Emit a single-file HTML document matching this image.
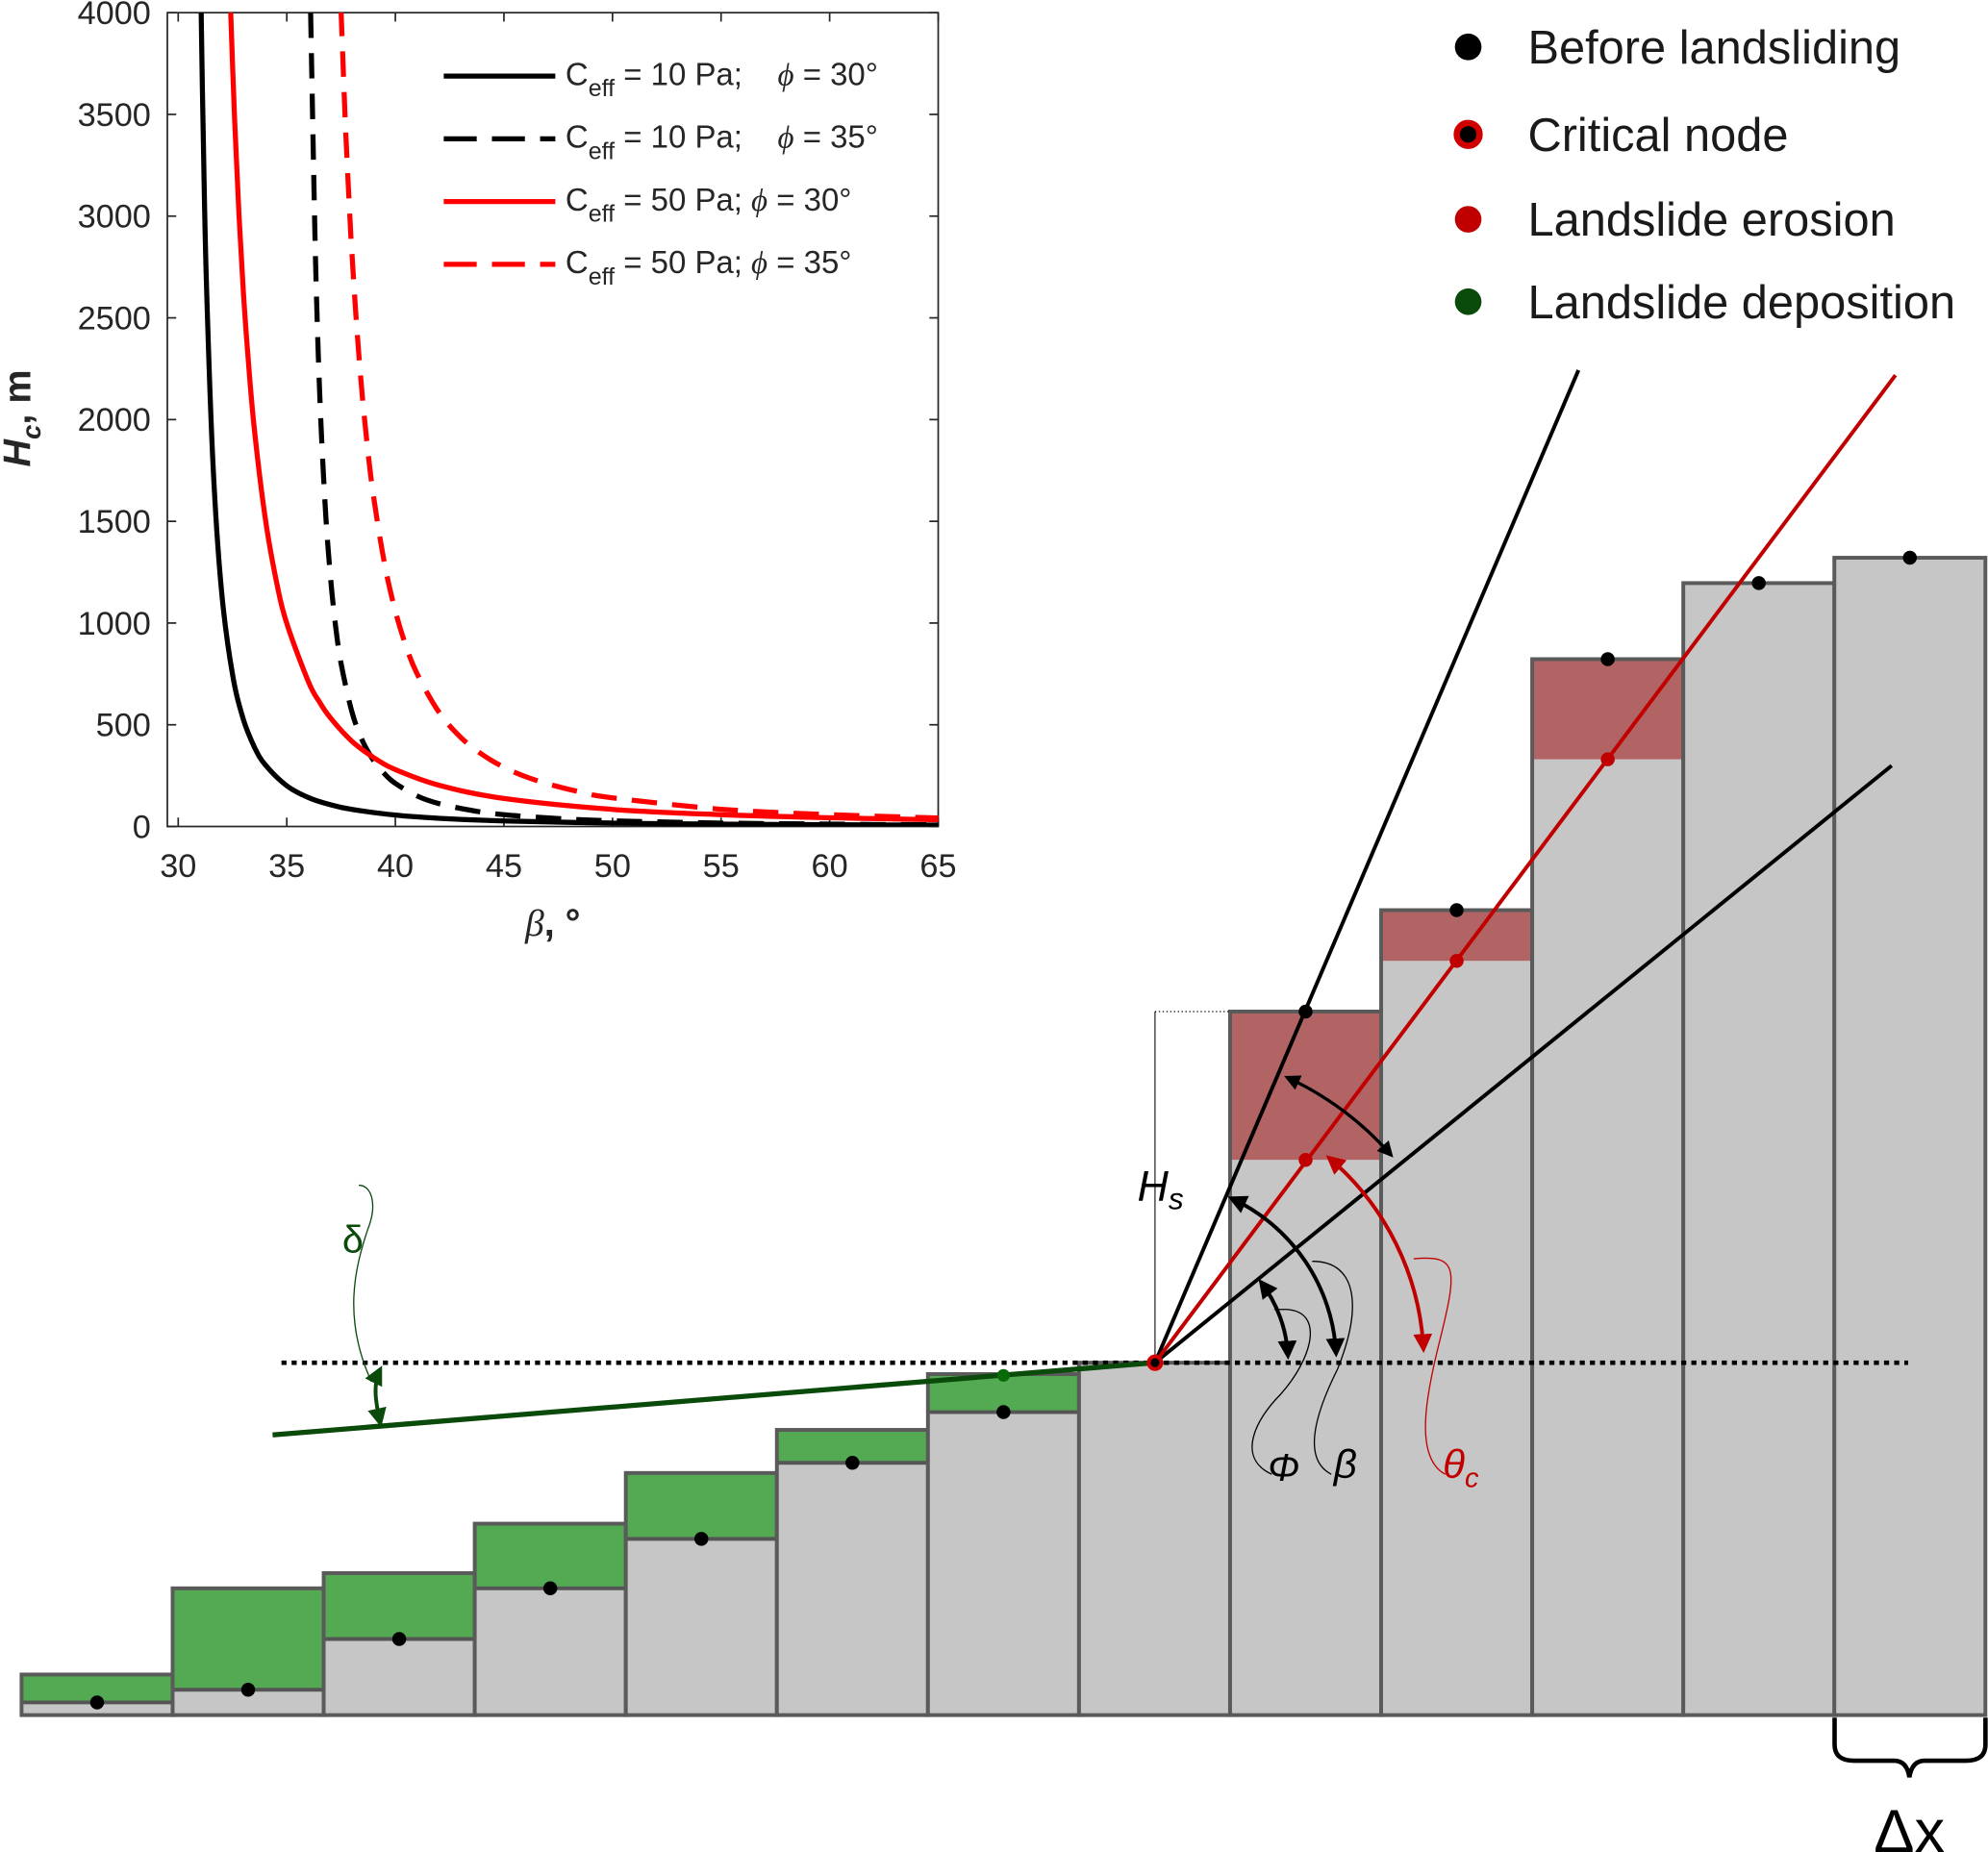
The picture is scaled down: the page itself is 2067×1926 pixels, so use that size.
<!DOCTYPE html>
<html><head><meta charset="utf-8"><style>
html,body{margin:0;padding:0;background:#fff;}
svg{display:block;}
text{font-family:"Liberation Sans","DejaVu Sans",sans-serif;}
</style></head><body>
<svg id="fig" width="2067" height="1926" viewBox="0 0 1568 1461" preserveAspectRatio="none" xmlns="http://www.w3.org/2000/svg">
<defs>
<marker id="ahk" viewBox="0 0 10 10" refX="8" refY="5" markerWidth="5" markerHeight="5" orient="auto-start-reverse"><path d="M0,0 L10,5 L0,10 z" fill="#000"/></marker>
<marker id="ahr" viewBox="0 0 10 10" refX="8" refY="5" markerWidth="5" markerHeight="5" orient="auto-start-reverse"><path d="M0,0 L10,5 L0,10 z" fill="#c00000"/></marker>
<marker id="ahg" viewBox="0 0 10 10" refX="8" refY="5" markerWidth="5" markerHeight="5" orient="auto-start-reverse"><path d="M0,0 L10,5 L0,10 z" fill="#0a4a0a"/></marker>
<clipPath id="axclip"><rect x="132" y="10" width="608" height="642"/></clipPath>
</defs>
<g id="diagram"></g>
<g id="inset"></g>
</svg>
<script>
// ===== Inset chart data =====
const xTicks = [30,35,40,45,50,55,60,65];
const yTicks = [0,500,1000,1500,2000,2500,3000,3500,4000];
const betaBlackSolid = [31.05,31.15,31.3,31.6,32,32.5,33,33.5,34,35,36,37,38,40,42,45,50,55,60,65];
const hcBlackSolid   = [4070,3403,2674,1781,1153,748,527,392,304,200,142,107,84,56,40.5,27.5,16.8,11.6,8.6,6.6];
const betaRedSolid = [32.4,32.6,32.8,33,33.2,33.5,34,34.5,35,36,36.5,37,38,39,40,42,45,50,55,60,65];
const hcRedSolid   = [4047,3467,3006,2632,2327,1960,1521,1217,998,711,613,535,419,339,280,203,138,84,58,43,33];
const betaBlackDash = [36.1,36.3,36.45,36.6,36.8,37,37.25,37.5,38,38.5,39,39.5,40,41,42,43.5,45,47.5,50,55,60,65];
const hcBlackDash   = [4000,2883,2326,1917,1522,1238,984,801,563,418,324,259,212,150,113,79,58,39,28,17,11.6,8.5];
const betaRedDash = [37.5,37.7,37.9,38,38.25,38.5,38.75,39,39.5,40,40.5,41,42,43,44,45,46,47,48.5,50,55,60,65];
const hcRedDash   = [4009,3453,3005,2815,2412,2092,1832,1619,1293,1059,884,751,563,439,354,291,245,210,170,141,85,58,42];
const legendLabels = ["10 Pa;\u00a0\u00a0\u00a0\u00a0", "10 Pa;\u00a0\u00a0\u00a0\u00a0", "50 Pa;\u00a0", "50 Pa;\u00a0"];
const legendPhi = ["30°","35°","30°","35°"];

// ===== Diagram data =====
const colBefore = [10,20,60,100,139,199,239,278,555,635,833,893,913];
const colAfter  = [10,20,60,100,139,199,239,278,438,595,754,893,913];
const colDepo   = [32,100,112,151,191,225,269,278,438,595,754,893,913];

const NS="http://www.w3.org/2000/svg";
function mk(parent,tag,attrs){const e=document.createElementNS(NS,tag);for(const k in attrs)e.setAttribute(k,attrs[k]);parent.appendChild(e);return e;}

// ---------- inset ----------
const inset=document.getElementById('inset');
const X0=132,X1=740,Y0=652,Y1=10;
const xs=v=>X0+(v-29.5)/(65-29.5)*(X1-X0);
const ys=v=>Y0-(v/4000)*(Y0-Y1);
const box=mk(inset,'rect',{x:X0,y:Y1,width:X1-X0,height:Y0-Y1,fill:'#fff',stroke:'#262626','stroke-width':1.3});


xTicks.forEach(t=>{
  const x=xs(t);
  mk(inset,'line',{x1:x,y1:Y0,x2:x,y2:Y0-7,stroke:'#262626','stroke-width':1.3});
  mk(inset,'line',{x1:x,y1:Y1,x2:x,y2:Y1+7,stroke:'#262626','stroke-width':1.3});
  const tx=mk(inset,'text',{x:x,y:Y0+40,'font-size':26,'text-anchor':'middle',fill:'#262626'});
  tx.textContent=t;
  
  
});
yTicks.forEach(t=>{
  const y=ys(t);
  mk(inset,'line',{x1:X0,y1:y,x2:X0+7,y2:y,stroke:'#262626','stroke-width':1.3});
  mk(inset,'line',{x1:X1,y1:y,x2:X1-7,y2:y,stroke:'#262626','stroke-width':1.3});
  const tx=mk(inset,'text',{x:X0-13,y:y+9,'font-size':26,'text-anchor':'end',fill:'#262626'});
  tx.textContent=t;
  
  
});
const xt=mk(inset,'text',{x:436,y:738,'font-size':30,'text-anchor':'middle',fill:'#262626'});
xt.innerHTML='<tspan font-style="italic" font-family="Liberation Serif, serif">β</tspan><tspan font-weight="bold">, °</tspan>';


const yt=mk(inset,'text',{x:0,y:0,'font-size':30,'font-weight':'bold','text-anchor':'middle',fill:'#262626',transform:'translate(24,330) rotate(-90)'});
yt.innerHTML='<tspan font-style="italic">H</tspan><tspan font-style="italic" font-size="21" dy="8">c</tspan><tspan dy="-8">, m</tspan>';


const series=[
 {b:betaBlackSolid,h:hcBlackSolid,c:'#000',d:null,n:'series-c10-phi30'},
 {b:betaBlackDash,h:hcBlackDash,c:'#000',d:'20,12',n:'series-c10-phi35'},
 {b:betaRedSolid,h:hcRedSolid,c:'#ff0000',d:null,n:'series-c50-phi30'},
 {b:betaRedDash,h:hcRedDash,c:'#ff0000',d:'20,12',n:'series-c50-phi35'}];
function smooth(P){
  let d='M'+P[0][0].toFixed(1)+','+P[0][1].toFixed(1);
  for(let i=0;i<P.length-1;i++){
    const p0=P[Math.max(0,i-1)],p1=P[i],p2=P[i+1],p3=P[Math.min(P.length-1,i+2)];
    const c1=[p1[0]+(p2[0]-p0[0])/6,p1[1]+(p2[1]-p0[1])/6];
    const c2=[p2[0]-(p3[0]-p1[0])/6,p2[1]-(p3[1]-p1[1])/6];
    d+=` C${c1[0].toFixed(1)},${c1[1].toFixed(1)} ${c2[0].toFixed(1)},${c2[1].toFixed(1)} ${p2[0].toFixed(1)},${p2[1].toFixed(1)}`;
  }
  return d;
}
const clipG=mk(inset,'g',{'clip-path':'url(#axclip)'});
series.forEach(s=>{
  const P=s.b.map((b,i)=>[xs(b),ys(s.h[i])]);
  const a={d:smooth(P),fill:'none',stroke:s.c,'stroke-width':4,'stroke-linejoin':'round'};
  if(s.d)a['stroke-dasharray']=s.d;
  const pl=mk(clipG,'path',a);
  
  
});
series.forEach((s,i)=>{
  const y=60+i*49.5;
  const a={x1:350,y1:y,x2:438,y2:y,stroke:s.c,'stroke-width':4};
  if(s.d)a['stroke-dasharray']='26,12';
  const ln=mk(inset,'line',a);
  
  
  const tx=mk(inset,'text',{x:446,y:y+7,'font-size':25,fill:'#262626'});
  tx.innerHTML='C<tspan font-size="19" dy="9">eff</tspan><tspan dy="-9"> = '+legendLabels[i]+'</tspan><tspan font-style="italic" font-family="Liberation Serif, serif">ϕ</tspan> = '+legendPhi[i];
  
  
});

// ---------- diagram ----------
const dg=document.getElementById('diagram');
const BASE=1353, CX0=17, CW=119.15;
const cx=i=>CX0+i*CW;
const crit={x:911,y:1075};
colBefore.forEach((hb,i)=>{
  const ha=colAfter[i], hd=colDepo[i];
  const top=Math.max(hb,hd);
  const g=mk(dg,'g',{});
  
  
  mk(g,'rect',{x:cx(i),y:BASE-ha,width:CW,height:ha,fill:'#c6c6c6'});
  if(hd>ha) mk(g,'rect',{x:cx(i),y:BASE-hd,width:CW,height:hd-ha,fill:'#53aa53'});
  if(hb>ha) mk(g,'rect',{x:cx(i),y:BASE-hb,width:CW,height:hb-ha,fill:'#b26464'});
  if(hd>ha) mk(g,'line',{x1:cx(i),y1:BASE-ha,x2:cx(i)+CW,y2:BASE-ha,stroke:'#555','stroke-width':3});
  mk(g,'rect',{x:cx(i),y:BASE-top,width:CW,height:top,fill:'none',stroke:'#5a5a5a','stroke-width':3});
});
const L=(a)=>mk(dg,'line',a);
L({x1:222,y1:crit.y,x2:1505,y2:crit.y,stroke:'#000','stroke-width':3.5,'stroke-dasharray':'4,4'});
L({x1:215,y1:1132,x2:crit.x,y2:crit.y,stroke:'#0a4a0a','stroke-width':4});
L({x1:crit.x,y1:crit.y,x2:1245,y2:292,stroke:'#000','stroke-width':3});
L({x1:crit.x,y1:crit.y,x2:1492,y2:604,stroke:'#000','stroke-width':3});
L({x1:crit.x,y1:crit.y,x2:1495,y2:296,stroke:'#c00000','stroke-width':3});
L({x1:911,y1:798,x2:911,y2:1075,stroke:'#000','stroke-width':0.8});
L({x1:911,y1:798,x2:971,y2:798,stroke:'#000','stroke-width':1,'stroke-dasharray':'1,2'});
function arc(r,a1,a2,col,mark,w){
  const p1=[crit.x+r*Math.cos(a1),crit.y-r*Math.sin(a1)],p2=[crit.x+r*Math.cos(a2),crit.y-r*Math.sin(a2)];
  return mk(dg,'path',{d:`M${p1[0]},${p1[1]} A${r},${r} 0 0 1 ${p2[0]},${p2[1]}`,fill:'none',stroke:col,'stroke-width':w||3,'marker-start':mark,'marker-end':mark});
}
const angB=Math.atan2(1075-292,1245-911), angP=Math.atan2(1075-604,1492-911), angR=Math.atan2(1075-296,1495-911);
arc(143,angB-0.03,0.05,'#000','url(#ahk)');
arc(105,angP-0.03,0.05,'#000','url(#ahk)');
arc(212,angR-0.06,0.05,'#c00000','url(#ahr)');
arc(248,angB-0.03,angP+0.04,'#000','url(#ahk)',2.5);
mk(dg,'path',{d:'M300,1123 C296,1105 294,1092 300,1080',fill:'none',stroke:'#0a4a0a','stroke-width':3,'marker-start':'url(#ahg)','marker-end':'url(#ahg)'});
const thin=(d,c)=>mk(dg,'path',{d:d,fill:'none',stroke:c,'stroke-width':1});
thin('M1003,1163 C975,1150 990,1120 1010,1100 C1035,1072 1045,1035 1015,1033 L1005,1033','#000');
thin('M1050,1163 C1025,1150 1040,1110 1055,1080 C1075,1030 1070,995 1035,995','#000');
thin('M1140,1163 C1115,1150 1125,1100 1135,1060 C1150,1000 1150,990 1115,993','#c00000');
thin('M293,1090 C270,1040 280,1000 290,970 C298,950 293,935 283,935','#0a4a0a');
function dot(x,y,fill,r,stroke){const c=mk(dg,'circle',{cx:x,cy:y,r:r||5.5,fill:fill});if(stroke){c.setAttribute('stroke',stroke);c.setAttribute('stroke-width',3);}return c;}
colBefore.forEach((hb,i)=>{
  if(i===7) return;
  const d=dot(cx(i)+CW/2,BASE-hb,'#000');
  
  
  if(colAfter[i]<hb){const r=dot(cx(i)+CW/2,BASE-colAfter[i],'#c00000');
    
    }
  if(colDepo[i]>hb && i===6){const g=dot(cx(i)+CW/2,BASE-colDepo[i]+1,'#0a6a0a',5);
    
    }
});
const cn=dot(crit.x,crit.y,'#000',5,'#d00000');


function T(x,y,s,html,col,name,extra){const t=mk(dg,'text',Object.assign({x:x,y:y,'font-size':s,fill:col},extra||{}));t.innerHTML=html;return t;}
T(897,947,34,'<tspan font-style="italic">H</tspan><tspan font-style="italic" font-size="24" dy="7">s</tspan>','#000','hs-label');
T(1000,1168,30,'<tspan font-style="italic">Φ</tspan>','#000','phi-label');
T(1052,1166,32,'<tspan font-style="italic">β</tspan>','#000','beta-label');
T(1138,1166,32,'<tspan font-style="italic">θ</tspan><tspan font-style="italic" font-size="22" dy="7">c</tspan>','#c00000','theta-label');
T(270,988,30,'δ','#0a4a0a','delta-label');
mk(dg,'path',{d:'M1447,1355 L1447,1376 Q1447,1389 1462,1389 L1494,1389 Q1504,1389 1506,1402 Q1508,1389 1518,1389 L1551,1389 Q1566,1389 1566,1376 L1566,1355',fill:'none',stroke:'#000','stroke-width':3.5});
T(1506,1461,48,'Δx','#000','dx-label',{'text-anchor':'middle'});
const lgC=['#000','#000','#c00000','#0a4a0a'], lgT=['Before landsliding','Critical node','Landslide erosion','Landslide deposition'], lgY=[37,106,173,238];
lgT.forEach((t,i)=>{
  const d= i===1 ? dot(1158,lgY[i],'#000',9,'#d00000') : dot(1158,lgY[i],lgC[i],10.5);
  if(i===1) d.setAttribute('stroke-width',5);
  
  
  T(1205,lgY[i]+13,37,t,'#1a1a1a','legend-entry');
});
</script>
</body></html>
